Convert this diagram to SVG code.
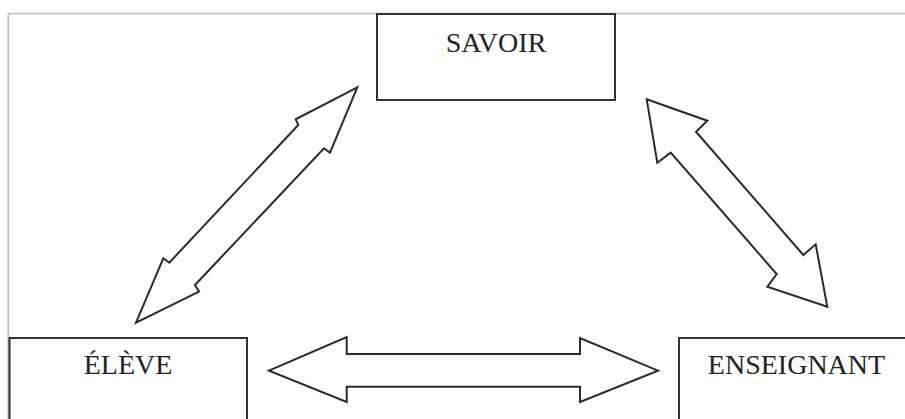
<svg xmlns="http://www.w3.org/2000/svg" width="905" height="419" viewBox="0 0 905 419">
<style>
.box{fill:#fff;stroke:#333;stroke-width:2}
.lbl{font-family:"Liberation Serif","Times New Roman",serif;font-size:28px;fill:#222;text-anchor:middle}
.arr{fill:#fff;stroke:#2a2a2a;stroke-width:2;stroke-linejoin:miter}
.frame{fill:none;stroke:#bdbdbd;stroke-width:1.5}
</style>
<rect width="905" height="419" fill="#fff"/>
<path class="frame" d="M8.3,420 V13.5 H905"/>
<g id="savoir">
<rect class="box" x="377" y="14" width="238" height="86"/>
<text class="lbl" x="496" y="52">SAVOIR</text>
</g>
<g id="eleve">
<rect class="box" x="9.5" y="338" width="237.5" height="100"/>
<text class="lbl" x="128" y="374">ÉLÈVE</text>
</g>
<g id="enseignant">
<rect class="box" x="679" y="338" width="240" height="100"/>
<text class="lbl" x="796.5" y="374">ENSEIGNANT</text>
</g>
<g id="connectors">
<polygon class="arr" points="357.3,87.3 295.7,119.3 298.3,125 169.3,262.7 163.3,258.3 136,322.7 199,291.7 195,285 324,148.3 330,152.7"/>
<polygon class="arr" points="646.7,99.3 707.3,120.7 696,131.7 803.3,255 815.7,244.3 827.3,306.7 767.3,286.7 776.7,274 670.7,152.7 657.3,162.7"/>
<polygon class="arr" points="269,370.7 346.7,337 346.7,354 580,354 580,338 658,370.7 580,402 580,386.7 346.7,386.7 346.7,402"/>
</g>
</svg>
